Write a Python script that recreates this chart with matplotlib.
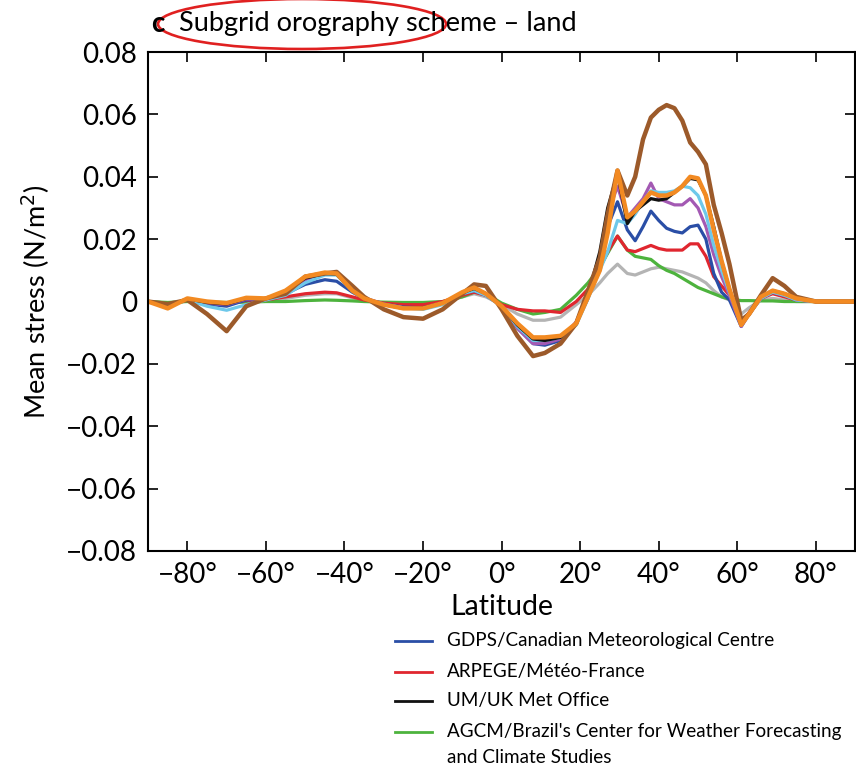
import numpy as np
import matplotlib
matplotlib.use("Agg")
import matplotlib.pyplot as plt
from matplotlib.lines import Line2D
from matplotlib.patches import Ellipse

plt.rcParams['font.family'] = ['Lato', 'DejaVu Sans']

# latitude grid (degrees) shared by all schemes
lat = [-90, -85, -80, -75, -70, -65, -60, -55, -50, -45, -42, -38, -35, -30, -25, -20,
       -15, -10, -7, -4, 0, 4, 8, 11, 15, 19, 22, 25, 27, 29.5, 32, 34, 36, 38, 40, 42,
       44, 46, 48, 50, 52, 54, 56, 58, 61, 63, 66, 69, 72, 75, 80, 85, 90]

# mean stress, in 1e-3 N/m^2
gdps = [0, -1.5, 0.8, -0.8, -1.5, 0.5, 0.8, 2.5, 5.5, 7, 6.5, 3, 1, -0.8, -1.8, -2,
        -0.5, 2.5, 3.5, 2, -1.5, -8.5, -13.5, -14, -12.5, -7, 1, 12, 24, 32, 23, 19.5, 24, 29, 26, 23.5,
        22.5, 22, 24, 24.5, 20, 9, 3, 0.5, -8, -4, 1, 3, 2, 0.5, 0, 0, 0]
arpege = [0, -1, 0.5, -0.3, -0.5, 0.3, 0.5, 1.5, 2.5, 3, 2.8, 1.5, 0.5, -0.5, -1, -1,
          0, 2, 3, 2, -1, -2.5, -3, -3, -3.5, 0, 4, 11, 16, 21, 16.5, 16, 17, 18, 17, 16.5,
          16.5, 16.5, 18.5, 18.5, 14.5, 8, 5, 2, -7, -3.5, 1, 2.5, 1.5, 0.5, 0, 0, 0]
um = [0, -1.8, 0.9, -0.3, -0.8, 1, 0.9, 3.2, 7.5, 9, 8.8, 3.5, 1, -1, -2.2, -2,
      -0.5, 2.8, 4.2, 2.5, -1.5, -7.5, -12, -12.5, -11.5, -7, 2, 16, 30, 41, 25, 29, 31, 33, 32.5, 33,
      35, 37, 39.5, 39, 34, 24, 13, 4, -7.5, -4, 1.5, 3.5, 2.5, 1, 0, 0, 0]
agcm = [0, -0.3, 0, -0.2, -0.3, -0.2, 0, 0, 0.3, 0.5, 0.4, 0.2, 0, -0.2, -0.3, -0.3,
        0, 1.5, 3, 2.5, -0.5, -2.5, -4, -3.5, -2.5, 2, 6, 11, 15.5, 21, 16.5, 14.5, 14, 13.5, 11.5, 10,
        9, 7.5, 6, 4.5, 3.5, 2.5, 1.5, 0.8, 0.3, 0.3, 0.2, 0.2, 0, 0, 0, 0, 0]
purple = [0, -1.5, 0.8, -0.5, -1, 0.8, 0.8, 3, 7, 9, 9, 4, 1.2, -0.8, -2, -2,
          -0.5, 2.5, 4, 2.5, -1.5, -8.5, -13.5, -13.5, -12, -6.5, 2, 14, 28, 37, 27, 30, 33, 38, 33, 32,
          31, 31, 33, 30, 24, 15, 8, 2, -8, -4, 1, 3, 2, 0.5, 0, 0, 0]
cyan = [0, -1.5, 0.5, -1.5, -2.8, -1, 0.5, 2, 6, 8.5, 8.5, 3.5, 1, -1, -2, -2.5,
        -1, 2.5, 3.5, 2, -1.5, -8, -12.5, -12.5, -11.5, -7.5, 1, 10, 16, 26, 25, 28, 32, 35.5, 35, 35,
        35.5, 37, 36.5, 34, 28, 18, 10, 3, -7, -4, 1, 3, 2, 0.5, 0, 0, 0]
grey = [0, -0.5, 0.3, -0.3, -0.5, 0.2, 0.3, 1, 2, 2.5, 2.5, 1.2, 0.3, -0.5, -1, -1,
        -0.3, 1.5, 2.5, 1.5, -1, -4, -6, -6, -5, -1, 2, 6, 9, 12, 9, 8.5, 9.5, 10.5, 11, 10.5,
        10, 9.5, 8.5, 7.5, 6, 3.5, 1.5, 0.5, -4, -2, 0.5, 1, 0.5, 0, 0, 0, 0]
brown = [0, -0.8, 0.5, -4, -9.5, -1.5, 1, 2.5, 8, 9, 9.5, 5, 1.5, -2.5, -5, -5.5,
         -2.5, 2.5, 5.5, 5, -2.5, -11, -17.5, -16.5, -13.5, -7, 3.5, 14, 28, 42, 34, 40, 52, 59, 61.5, 63,
         62, 58, 51, 48, 44, 31, 22, 12, -6, -4, 2, 7.5, 5, 1.5, 0, 0, 0]
orange = [0, -2.2, 1, 0, -0.5, 1.2, 1, 3.5, 8, 9.3, 9, 3.5, 1, -1, -2.2, -2.2,
          -0.5, 3, 4.5, 2.5, -1.5, -7, -11.5, -11.5, -11, -7, 1.5, 10, 22, 42, 27, 29, 32, 35, 34, 34,
          35, 37, 40, 39.5, 34, 23, 13, 4, -7.5, -4, 1.5, 3.5, 2.5, 1, 0, 0, 0]

legend_labels = ["GDPS/Canadian Meteorological Centre",
                 "ARPEGE/Météo-France",
                 "UM/UK Met Office",
                 "AGCM/Brazil's Center for Weather Forecasting\nand Climate Studies"]

xticks = [-80, -60, -40, -20, 0, 20, 40, 60, 80]
xtick_labels = ["\u221280°", "\u221260°", "\u221240°", "\u221220°", "0°", "20°", "40°", "60°", "80°"]
yticks = [0.08, 0.06, 0.04, 0.02, 0, -0.02, -0.04, -0.06, -0.08]
ytick_labels = ["0.08", "0.06", "0.04", "0.02", "0", "\u22120.02", "\u22120.04", "\u22120.06", "\u22120.08"]

fig = plt.figure(figsize=(8.56, 7.66), dpi=100)
ax = fig.add_axes([0.173, 0.2807, 0.826, 0.6513])

lat = np.array(lat)
series = [
    (grey, "#b4b4b4", 2.3),
    (agcm, "#4db33d", 2.3),
    (arpege, "#e0262f", 2.3),
    (gdps, "#2a4ea6", 2.3),
    (purple, "#a359b3", 2.3),
    (cyan, "#6ec8ea", 2.3),
    (um, "#111111", 2.3),
    (brown, "#9c5a2a", 3.2),
    (orange, "#f28a22", 3.2),
]
for vals, col, lw in series:
    ax.plot(lat, np.array(vals) * 1e-3, color=col, lw=lw, solid_joinstyle="round")

ax.set_xlim(-90, 90)
ax.set_ylim(-0.08, 0.08)
ax.set_xticks(xticks)
ax.set_xticklabels(xtick_labels)
ax.set_yticks(yticks)
ax.set_yticklabels(ytick_labels)
ax.tick_params(direction="in", length=7, width=1.2, top=True, right=True,
               labelsize=20, pad=8)
for s in ax.spines.values():
    s.set_linewidth(1.5)
ax.set_xlabel("Latitude", fontsize=20.5, labelpad=4)
ax.set_ylabel("Mean stress (N/m$^2$)", fontsize=19.5, labelpad=10)

# panel title
fig.text(0.177, 0.969, "c", fontsize=20, fontweight="bold", va="center", ha="left")
fig.text(0.209, 0.969, "Subgrid orography scheme \u2013 land", fontsize=19.5, va="center", ha="left")
fig.add_artist(Ellipse((302 / 856, 1 - 24 / 766), 288 / 856, 50 / 766,
                       transform=fig.transFigure, fill=False, ec="#e02020", lw=1.9))

# legend (drawn by hand)
leg_cols = ["#2a4ea6", "#e0262f", "#111111", "#4db33d"]
leg_y = [641, 672, 701, 732]
for lab, col, yp in zip(legend_labels, leg_cols, leg_y):
    y = 1 - yp / 766
    fig.add_artist(Line2D([395 / 856, 432 / 856], [y, y], color=col, lw=2,
                          transform=fig.transFigure))
    fig.text(447 / 856, y + 0.012, lab, fontsize=13.6, va="top", ha="left",
             linespacing=1.65)

fig.savefig("out.png", dpi=100)
